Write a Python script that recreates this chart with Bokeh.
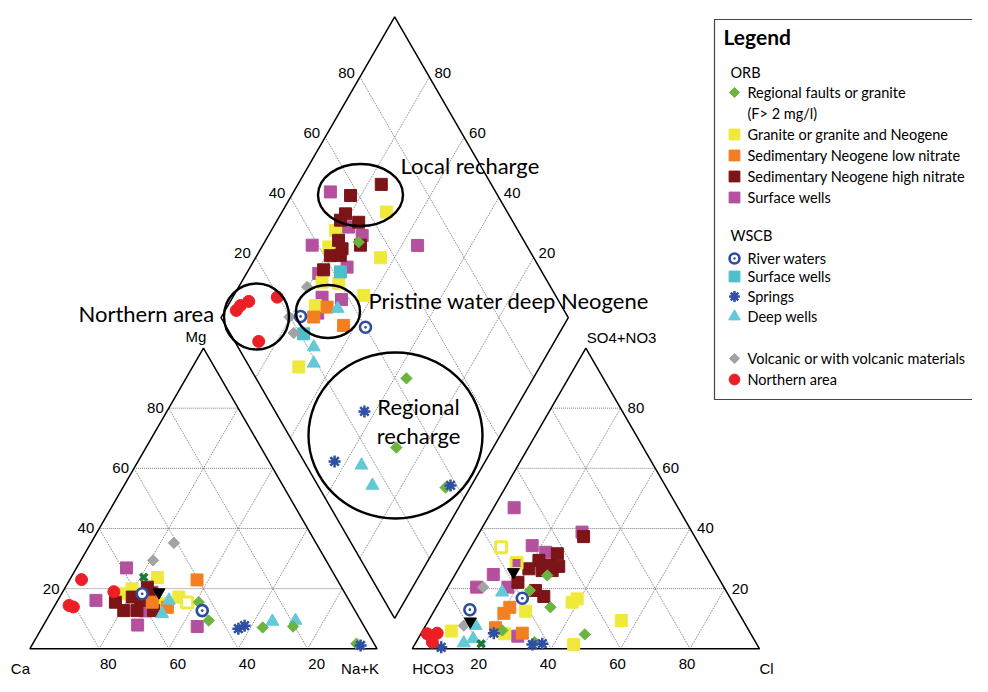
import math
from bokeh.plotting import figure
from bokeh.models import Range1d
from bokeh.embed import file_html
from bokeh.resources import INLINE
from bokeh.core.properties import value

# ---------------- DATA (percent of meq) ----------------
# Cation triangle: (Mg, Na+K); Ca = 100 - Mg - Na+K
cat_regional = [(15.5, 40.9), (9.4, 46.8), (7.4, 72.1), (7.1, 63.5), (1.7, 93.2)]
cat_granite = [(23.7, 24.9), (17.2, 34.3), (15.0, 30.1), (18.3, 17.9), (19.9, 19.5)]
cat_granite_hollow = [(15.4, 37.6)]
cat_sed_low = [(22.9, 36.7), (15.5, 27.5), (13.8, 32.7)]
cat_sed_high = [(15.5, 16.9), (12.7, 20.7), (17.2, 20.9), (16.1, 23.9), (18.3, 25.6),
                (12.7, 29.3), (12.7, 24.5), (20.5, 23.6)]
cat_surface_orb = [(26.9, 14.4), (16.1, 11.0), (7.9, 27.1), (12.6, 27.0), (18.8, 25.8), (7.4, 44.5)]
cat_river = [(12.7, 43.3), (18.3, 23.2)]
cat_surface_wscb = []
cat_springs = [(6.7, 56.7), (7.7, 58.0), (1.1, 94.7)]
cat_deep = [(11.6, 32.3), (16.1, 32.0), (9.4, 71.8), (9.1, 65.3)]
cat_volcanic = [(35.2, 23.9), (29.4, 20.8)]
cat_northern = [(23.0, 3.4), (14.4, 4.1), (13.9, 5.6), (19.0, 14.7)]
cat_cross = [(23.8, 20.9)]
cat_black = [(18.8, 27.8)]
cat_granite_mag = []

# Anion triangle: (SO4+NO3, Cl); HCO3 = 100 - SO4 - Cl
an_regional = [(19.4, 24.2), (13.8, 32.9), (24.4, 26.7), (6.1, 22.9), (2.2, 34.1), (4.8, 47.3)]
an_granite = [(15.5, 38.3), (16.6, 39.2), (12.5, 26.4), (5.9, 8.3), (5.0, 24.1), (9.4, 55.5), (1.4, 45.8)]
an_granite_hollow = [(33.8, 8.7)]
an_granite_mag = [(28.5, 15.8)]
an_sed_low = [(13.8, 21.2), (11.8, 20.5), (7.0, 20.5), (5.2, 29.1)]
an_sed_high = [(37.3, 30.7), (31.6, 26.0), (29.4, 21.8), (27.7, 26.0), (27.4, 28.5), (26.6, 20.3),
               (26.0, 24.4), (26.0, 27.3), (22.1, 19.4), (19.4, 25.8), (17.4, 29.2)]
an_surface_orb = [(46.9, 5.9), (38.8, 29.5), (34.3, 17.4), (32.1, 22.4), (24.7, 11.0),
                  (20.5, 8.3), (20.5, 17.3), (4.2, 28.3)]
an_river = [(16.8, 23.3), (13.0, 10.1)]
an_surface_wscb = []
an_springs = [(0.5, 8.1), (5.2, 20.9), (1.4, 33.9), (1.7, 36.6)]
an_deep = [(18.8, 16.5), (7.7, 14.4), (1.9, 13.9), (3.3, 15.9)]
an_volcanic = [(20.5, 10.2), (7.7, 11.0)]
an_northern = [(5.0, 1.8), (5.2, 4.6), (2.2, 4.7)]
an_cross = [(1.7, 19.0)]
an_black = [(25.5, 16.4), (9.1, 12.2)]

# Diamond: (Ca+Mg, SO4+NO3+Cl)
dia_regional = [(72.9, 52.2), (36.5, 43.3), (27.9, 28.9), (7.1, 36.4)]
dia_granite = [(69.9, 65.2), (81.5, 47.5), (80.7, 42.8), (64.0, 55.9), (76.8, 35.0),
               (71.8, 39.6), (62.6, 44.8), (74.8, 29.2), (69.4, 14.2)]
dia_sed_low = [(71.2, 32.3), (73.4, 26.8), (63.4, 34.0)]
dia_sed_high = [(76.0, 68.3), (83.0, 57.6), (81.4, 53.1), (81.8, 50.6), (76.2, 55.5), (71.9, 52.2),
                (79.0, 46.7), (76.6, 46.3), (78.8, 41.8), (76.0, 44.7), (78.4, 37.5)]
dia_surface_orb = [(89.4, 52.4), (78.3, 51.8), (73.0, 54.3), (85.8, 38.3), (72.1, 44.7), (79.2, 35.5),
                   (74.3, 32.5), (68.3, 37.7), (72.9, 28.6), (55.4, 68.6)]
dia_river = [(77.3, 23.1), (56.8, 40.0)]
dia_surface_wscb = [(73.2, 42.0), (73.5, 21.1)]
dia_springs = [(43.1, 25.7), (43.4, 8.8), (6.0, 38.2)]
dia_deep = [(67.9, 35.1), (68.4, 21.8), (65.7, 19.1), (35.0, 15.9), (28.5, 15.7)]
dia_volcanic = [(80.3, 29.9), (80.4, 19.8), (76.5, 18.4)]
dia_northern = [(96.8, 5.6), (96.4, 7.6), (94.7, 10.7), (87.2, 19.6), (85.2, 6.9)]

tick_values = [20, 40, 60, 80]

legend_groups = ["ORB", "WSCB"]
legend_labels = ["Regional faults or granite", "(F> 2 mg/l)", "Granite or granite and Neogene",
                 "Sedimentary Neogene low nitrate", "Sedimentary Neogene high nitrate", "Surface wells",
                 "River waters", "Surface wells", "Springs", "Deep wells",
                 "Volcanic or with volcanic materials", "Northern area"]

# ---------------- GEOMETRY ----------------
S = 347.3
SIN60 = math.sqrt(3) / 2
HT = S * SIN60
CAT_L = (29.3, 648.3)
AN_L = (411.7, 648.3)
GAP = AN_L[0] - (CAT_L[0] + S)
B = (CAT_L[0] + S + GAP / 2, CAT_L[1] - GAP * SIN60)


def cat_xy(mg, na):
    return CAT_L[0] + S * (na + mg / 2) / 100, CAT_L[1] - HT * mg / 100


def an_xy(so4, cl):
    return AN_L[0] + S * (cl + so4 / 2) / 100, AN_L[1] - HT * so4 / 100


def dia_xy(camg, so4cl):
    return B[0] + S * (so4cl - camg) / 200, B[1] - HT * (camg + so4cl) / 100


p = figure(width=972, height=676, x_range=Range1d(0, 972), y_range=Range1d(676, 0),
           output_backend="svg", toolbar_location=None, min_border=0,
           x_axis_location=None, y_axis_location=None)
p.grid.visible = False
p.outline_line_color = None

GRID = dict(line_color="#6e6e6e", line_width=0.9, line_dash="1 1")
EDGE = dict(line_color="black", line_width=1.5)


def tri_corners(L):
    return L, (L[0] + S, L[1]), (L[0] + S / 2, L[1] - HT)


def lerp(a, b, t):
    return (a[0] + (b[0] - a[0]) * t, a[1] + (b[1] - a[1]) * t)


xs_g, ys_g, xs_e, ys_e = [], [], [], []
for L in (CAT_L, AN_L):
    l, r, t = tri_corners(L)
    for v in tick_values:
        f = v / 100
        for a, b in ((lerp(l, t, f), lerp(r, t, f)), (lerp(l, r, f), lerp(t, r, f)), (lerp(r, l, f), lerp(t, l, f))):
            xs_g.append([a[0], b[0]]); ys_g.append([a[1], b[1]])
    xs_e.append([l[0], r[0], t[0], l[0]]); ys_e.append([l[1], r[1], t[1], l[1]])

dl = dia_xy(100, 0); dr = dia_xy(0, 100); dt = dia_xy(100, 100); db = dia_xy(0, 0)
for v in tick_values:
    a1 = dia_xy(v, 0); a2 = dia_xy(v, 100)
    b1 = dia_xy(0, v); b2 = dia_xy(100, v)
    xs_g += [[a1[0], a2[0]], [b1[0], b2[0]]]
    ys_g += [[a1[1], a2[1]], [b1[1], b2[1]]]
xs_e.append([db[0], dl[0], dt[0], dr[0], db[0]]); ys_e.append([db[1], dl[1], dt[1], dr[1], db[1]])

p.multi_line(xs_g, ys_g, **GRID)
p.multi_line(xs_e, ys_e, **EDGE)

# ---------------- STYLES ----------------
STY = {
    "surface_orb": dict(marker="square", size=12, fill_color="#b4519f", line_color="#b4519f"),
    "granite": dict(marker="square", size=12, fill_color="#efe93b", line_color="#efe93b"),
    "granite_hollow": dict(marker="square", size=11, fill_color="white", line_color="#efe93b", line_width=3),
    "granite_mag": dict(marker="square", size=11, fill_color="#b4519f", line_color="#efe93b", line_width=3),
    "sed_low": dict(marker="square", size=12, fill_color="#f28022", line_color="#f28022"),
    "sed_high": dict(marker="square", size=12, fill_color="#7c1517", line_color="#7c1517"),
    "surface_wscb": dict(marker="square", size=12, fill_color="#4cbfc9", line_color="#4cbfc9"),
    "volcanic": dict(marker="square", size=8, angle=math.pi / 4, fill_color="#a3a3a3", line_color="#a3a3a3"),
    "regional": dict(marker="square", size=8, angle=math.pi / 4, fill_color="#6ab43f", line_color="#6ab43f"),
    "deep": dict(marker="triangle", size=13, fill_color="#63c8d8", line_color="#63c8d8"),
    "river": dict(marker="circle_dot", size=11, fill_color="white", line_color="#2b4c9f", line_width=2.6),
    "springs": dict(marker="asterisk", size=12, line_color="#2e4fa3", line_width=2.5),
    "northern": dict(marker="circle", size=12, fill_color="#ec1f26", line_color="#ec1f26"),
    "cross": dict(marker="x", size=10, line_color="#1b7a3b", line_width=3.5),
    "black": dict(marker="inverted_triangle", size=12, fill_color="black", line_color="black"),
}

panels = [
    (cat_xy, {"surface_orb": cat_surface_orb, "granite": cat_granite, "sed_high": cat_sed_high,
              "sed_low": cat_sed_low, "granite_hollow": cat_granite_hollow, "surface_wscb": cat_surface_wscb,
              "volcanic": cat_volcanic, "deep": cat_deep, "regional": cat_regional, "river": cat_river,
              "springs": cat_springs, "northern": cat_northern, "cross": cat_cross, "black": cat_black,
              "granite_mag": cat_granite_mag}),
    (an_xy, {"surface_orb": an_surface_orb, "granite": an_granite, "sed_high": an_sed_high,
             "sed_low": an_sed_low, "granite_hollow": an_granite_hollow, "granite_mag": an_granite_mag,
             "surface_wscb": an_surface_wscb, "volcanic": an_volcanic, "deep": an_deep,
             "regional": an_regional, "river": an_river, "springs": an_springs, "northern": an_northern,
             "cross": an_cross, "black": an_black}),
    (dia_xy, {"surface_orb": dia_surface_orb, "granite": dia_granite, "sed_high": dia_sed_high,
              "sed_low": dia_sed_low, "surface_wscb": dia_surface_wscb, "volcanic": dia_volcanic,
              "deep": dia_deep, "regional": dia_regional, "river": dia_river, "springs": dia_springs,
              "northern": dia_northern}),
]

for fn, groups in panels:
    for key, pts in groups.items():
        if not pts:
            continue
        xy = [fn(*pt) for pt in pts]
        p.scatter([q[0] for q in xy], [q[1] for q in xy], **STY[key])

# ---------------- ELLIPSES ----------------
p.ellipse(x=[360, 256, 327.5, 395], y=[194.5, 316, 311, 435], width=[85, 65, 64, 174],
          height=[62, 66, 53, 166], fill_color=None, line_color="black", line_width=2.4)

# ---------------- TEXT ----------------
AX = dict(text_font=value("Liberation Sans"), text_font_size="15px", text_baseline="middle", text_color="black")


def txt(xs, ys, ts, align="left", **kw):
    st = dict(AX); st.update(kw)
    p.text(x=xs, y=ys, text=ts, text_align=align, **st)


# cation triangle ticks
bx = [cat_xy(0, 100 - v)[0] + 9 for v in [80, 60, 40, 20]]
txt(bx, [663] * 4, [str(v) for v in [80, 60, 40, 20]], align="center")
le = [cat_xy(v, 0) for v in tick_values]
txt([q[0] - 5 for q in le], [q[1] for q in le], [str(v) for v in tick_values], align="right")
# anion triangle ticks
ax_ = [an_xy(0, v)[0] - 3 for v in tick_values]
txt(ax_, [663] * 4, [str(v) for v in tick_values], align="center")
re_ = [an_xy(v, 100 - v) for v in tick_values]
txt([q[0] + 7 for q in re_], [q[1] for q in re_], [str(v) for v in tick_values], align="left")
# diamond ticks
dlt = [dia_xy(100, v) for v in tick_values]
txt([q[0] - 5 for q in dlt], [q[1] - 4 for q in dlt], [str(v) for v in tick_values], align="right")
drt = [dia_xy(v, 100) for v in tick_values]
txt([q[0] + 5 for q in drt], [q[1] - 4 for q in drt], [str(v) for v in tick_values], align="left")

# corner labels
ct = tri_corners(CAT_L)[2]; at = tri_corners(AN_L)[2]
txt([ct[0] + 3], [ct[1] - 12], ["Mg"], align="right")
txt([at[0] + 1], [at[1] - 11], ["SO4+NO3"], align="left")
txt([CAT_L[0] - 19, CAT_L[0] + S - 36, AN_L[0], AN_L[0] + S], [668] * 4, ["Ca", "Na+K", "HCO3", "Cl"])

ANN = dict(text_font=value("Lato"), text_font_size="22px", text_baseline="middle", text_color="black")
p.text(x=[400, 368, 78], y=[165, 300, 313],
       text=["Local recharge", "Pristine water deep Neogene", "Northern area"], text_align="left", **ANN)
p.text(x=[418, 418], y=[406, 435], text=["Regional", "recharge"], text_align="center", **ANN)

# ---------------- LEGEND ----------------
# box open on the right (it runs past the picture edge, as in the source)
p.multi_line(xs=[[990, 714, 714, 990]], ys=[[19, 19, 399, 399]], line_color="#444444", line_width=1.2)
p.text(x=[723], y=[36], text=["Legend"], text_font=value("Lato"), text_font_size="21px",
       text_font_style="bold", text_baseline="middle", text_align="left")
LG = dict(text_font=value("Lato"), text_font_size="14.5px", text_baseline="middle", text_align="left")
p.text(x=[730, 730], y=[72, 235], text=legend_groups, **LG)
label_y = [92, 113, 134, 155, 176, 197, 258, 276, 296, 316, 358, 379]
p.text(x=[747] * len(legend_labels), y=label_y, text=legend_labels, **LG)
leg_keys = ["regional", None, "granite", "sed_low", "sed_high", "surface_orb",
            "river", "surface_wscb", "springs", "deep", "volcanic", "northern"]
for k, yv in zip(leg_keys, label_y):
    if k is None:
        continue
    st = dict(STY[k])
    st["size"] = st["size"] * 0.9
    p.scatter([734], [yv], **st)

open("out.html", "w").write(file_html(p, INLINE))
